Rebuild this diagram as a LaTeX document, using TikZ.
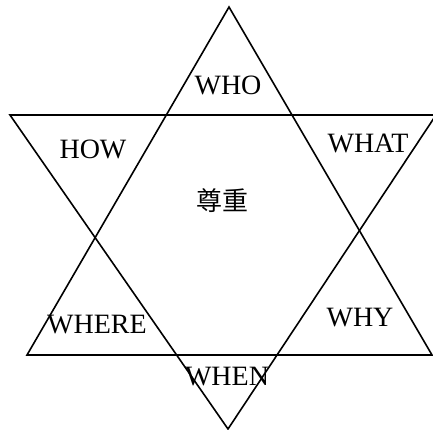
\documentclass[tikz,border=0pt]{standalone}
\usepackage{fontspec}
\setmainfont{Liberation Serif}
\newfontfamily\cjk{Noto Sans CJK SC}
\begin{document}
\begin{tikzpicture}[x=1pt,y=-1pt,
  edge/.style={draw=black,line width=1.6pt,line join=miter},
  lbl/.style={anchor=base,inner sep=0pt,font=\fontsize{28}{30}\selectfont}]
\useasboundingbox (0,0) rectangle (433,429);
% upward triangle
\coordinate (ua) at (229,7);
\coordinate (ul) at (27,355);
\coordinate (ur) at (432,355);
% downward triangle
\coordinate (dl) at (10,115);
\coordinate (dr) at (436,115);
\coordinate (da) at (228,429);
\draw[edge] (ua) -- (ul) -- (ur) -- cycle;
\draw[edge] (dl) -- (dr) -- (da) -- cycle;
\node[lbl] (who) at (228,94) {WHO};
\node[lbl] (how) at (93,158) {HOW};
\node[lbl] (what) at (368,152) {WHAT};
\node[lbl] (where) at (97,333) {WHERE};
\node[lbl] (why) at (360,326) {WHY};
\node[lbl] (when) at (227,385) {WHEN};
\node[inner sep=0pt,font=\cjk\fontsize{26}{28}\selectfont] (c) at (222,201) {尊重};
\end{tikzpicture}
\end{document}
